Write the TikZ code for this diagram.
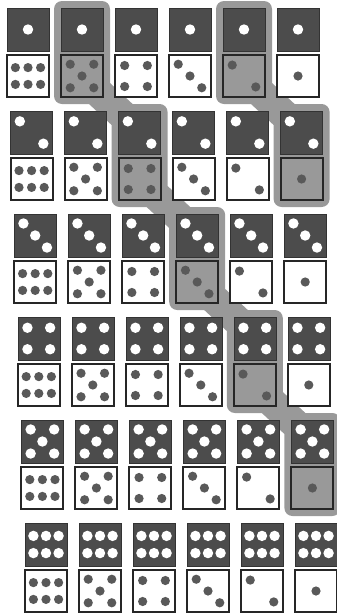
\documentclass[tikz,border=0pt]{standalone}
\begin{document}
\def\pipsi{0.5/0.5}
\def\pipsii{0.22/0.24,0.78/0.76}
\def\pipsiii{0.22/0.22,0.5/0.5,0.78/0.78}
\def\pipsiv{0.23/0.25,0.77/0.25,0.23/0.75,0.77/0.75}
\def\pipsv{0.22/0.22,0.78/0.22,0.5/0.5,0.22/0.78,0.78/0.78}
\def\pipsvi{0.2/0.3,0.5/0.3,0.8/0.3,0.2/0.7,0.5/0.7,0.8/0.7}
\newcommand\dpips[6]{%
  \edef\plist{\ifcase#1\or\pipsi\or\pipsii\or\pipsiii\or\pipsiv\or\pipsv\or\pipsvi\fi}%
  \foreach \px/\py in \plist {\fill[#6] ({#2+\px*#4},{#3+\py*#5}) circle;}%
}
\tikzset{
  topdie/.style={fill=black!70, draw=black!80, line width=0.6pt},
  botdie/.style={draw=black!85, line width=2pt},
  toppip/.style={fill=white, radius=5.2pt},
  botpip/.style={fill=black!65, radius=4.6pt},
  band/.style={fill=black!40, rounded corners=8pt}
}
\begin{tikzpicture}[x=1pt,y=-1pt]
\useasboundingbox (0,0) rectangle (337,614);
\clip (0,0) rectangle (337,614);
% shaded bands (sum 6 and sum 3)
\foreach \r/\c in {1/2,2/3,3/4,4/5,5/6,1/5,2/6} {
  \pgfmathsetmacro\xl{7+3.6*(\r-1)+54*(\c-1)}
  \pgfmathsetmacro\yt{8+103*(\r-1)}
  \fill[band] (\xl-7,\yt-7) rectangle ({\xl+49},{\yt+96});
}
\foreach \r/\c in {1/2,2/3,3/4,4/5,1/5} {
  \pgfmathsetmacro\xl{7+3.6*(\r-1)+54*(\c-1)}
  \pgfmathsetmacro\yt{8+103*(\r-1)}
  \pgfmathsetmacro\xn{7+3.6*\r+54*\c}
  \pgfmathsetmacro\yn{8+103*\r}
  \fill[black!40] ({\xl+28},{\yt+96}) -- ({\xl+49},{\yt+75}) -- ({\xn+14},{\yn-7}) -- ({\xn-7},{\yn+14}) -- cycle;
}
% dominoes
\foreach \r in {1,...,6} {
  \foreach \c in {1,...,6} {
    \pgfmathsetmacro\xl{7+3.6*(\r-1)+54*(\c-1)}
    \pgfmathsetmacro\yt{8+103*(\r-1)}
    \pgfmathsetmacro\yb{\yt+47}
    \pgfmathtruncatemacro\nb{7-\c}
    \pgfmathtruncatemacro\hl{((\r+\nb)==6)||((\r+\nb)==3)}
    \fill[topdie] (\xl,\yt) rectangle ({\xl+42},{\yt+43});
    \dpips{\r}{\xl}{\yt}{42}{43}{toppip}
    \ifnum\hl=1
      \draw[botdie] (\xl,\yb) rectangle ({\xl+42},{\yb+42});
    \else
      \draw[botdie, fill=white] (\xl,\yb) rectangle ({\xl+42},{\yb+42});
    \fi
    \dpips{\nb}{\xl}{\yb}{42}{42}{botpip}
  }
}
\end{tikzpicture}
\end{document}
